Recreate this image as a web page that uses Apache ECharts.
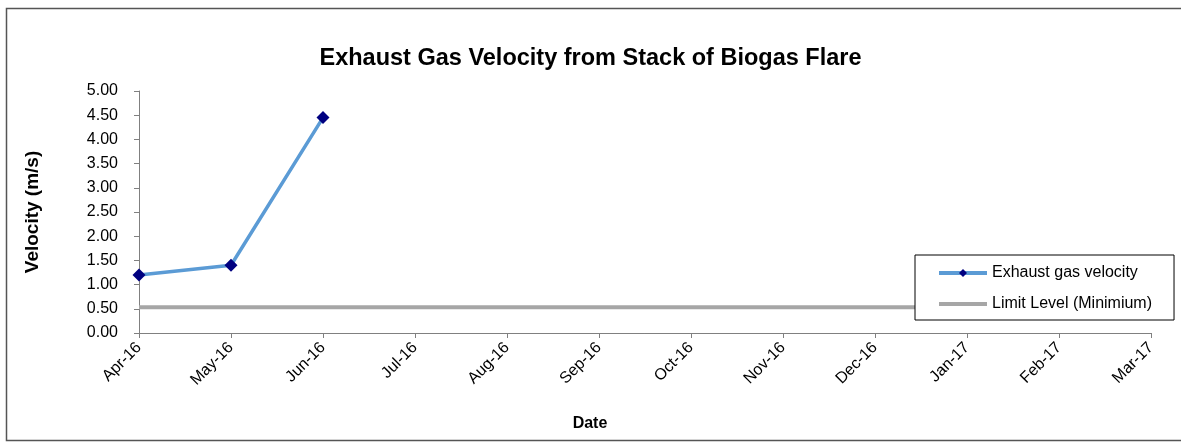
<!DOCTYPE html>
<html>
<head>
<meta charset="utf-8">
<script src="https://cdn.jsdelivr.net/npm/echarts@6/dist/echarts.min.js"></script>
<style>
  html, body { margin: 0; padding: 0; background: #fff; }
  #chart { width: 1181px; height: 443px; }
</style>
</head>
<body>
<div id="chart"></div>
<script>
const months = ['Apr-16', 'May-16', 'Jun-16', 'Jul-16', 'Aug-16', 'Sep-16',
  'Oct-16', 'Nov-16', 'Dec-16', 'Jan-17', 'Feb-17', 'Mar-17'];
const velocity = [1.20, 1.40, 4.45, null, null, null, null, null, null, null, null, null];
const limitLevel = [0.53, 0.53, 0.53, 0.53, 0.53, 0.53, 0.53, 0.53, 0.53, 0.53, 0.53, 0.53];

const chart = echarts.init(document.getElementById('chart'));
const font = 'Liberation Sans, Arial, sans-serif';

chart.setOption({
  animation: false,
  textStyle: { fontFamily: font },
  graphic: [{
    type: 'rect',
    shape: { x: 6.5, y: 8.5, width: 1190, height: 432 },
    style: { fill: 'none', stroke: '#555', lineWidth: 1.5 },
    z: -1
  }],
  title: {
    text: 'Exhaust Gas Velocity from Stack of Biogas Flare',
    left: 'center',
    top: 42,
    textStyle: { fontFamily: font, fontSize: 23.5, fontWeight: 'bold', color: '#000' }
  },
  grid: { left: 139, right: 30, top: 91, bottom: 110 },
  legend: {
    orient: 'vertical',
    left: 915,
    top: 255,
    padding: [10, 22, 8, 22],
    itemGap: 15,
    itemWidth: 48,
    itemHeight: 10,
    backgroundColor: '#fff',
    borderColor: '#000',
    borderWidth: 1,
    lineStyle: { width: 4 },
    textStyle: { fontFamily: font, fontSize: 16, color: '#000' },
    data: [
      { name: 'Exhaust gas velocity' },
      { name: 'Limit Level (Minimium)', itemStyle: { color: 'rgba(0,0,0,0)', opacity: 0 } }
    ]
  },
  xAxis: {
    type: 'category',
    data: months,
    boundaryGap: false,
    name: 'Date',
    nameLocation: 'middle',
    nameGap: 83,
    nameTextStyle: { fontFamily: font, fontSize: 16, fontWeight: 'bold', color: '#000', padding: [0, 110, 0, 0] },
    axisLine: { lineStyle: { color: '#808080', width: 1 } },
    axisTick: { show: true, length: 5, lineStyle: { color: '#808080' } },
    axisLabel: { rotate: 45, fontSize: 16, color: '#000', margin: 12 },
    splitLine: { show: false }
  },
  yAxis: {
    type: 'value',
    min: 0,
    max: 5,
    interval: 0.5,
    name: 'Velocity (m/s)',
    nameLocation: 'middle',
    nameGap: 97,
    nameRotate: 90,
    nameTextStyle: { fontFamily: font, fontSize: 19, fontWeight: 'bold', color: '#000' },
    axisLine: { show: true, lineStyle: { color: '#808080', width: 1 } },
    axisTick: { show: true, length: 5, lineStyle: { color: '#808080' } },
    axisLabel: { fontSize: 16, color: '#000', margin: 21, formatter: v => v.toFixed(2) },
    splitLine: { show: false }
  },
  series: [
    {
      name: 'Limit Level (Minimium)',
      type: 'line',
      data: limitLevel,
      symbol: 'none',
      lineStyle: { color: '#A6A6A6', width: 4 },
      itemStyle: { color: '#A6A6A6' },
      z: 1
    },
    {
      name: 'Exhaust gas velocity',
      type: 'line',
      data: velocity,
      symbol: 'diamond',
      symbolSize: 13,
      lineStyle: { color: '#5B9BD5', width: 3.5 },
      itemStyle: { color: '#000080', borderWidth: 0 },
      z: 3
    }
  ]
});
</script>
</body>
</html>
